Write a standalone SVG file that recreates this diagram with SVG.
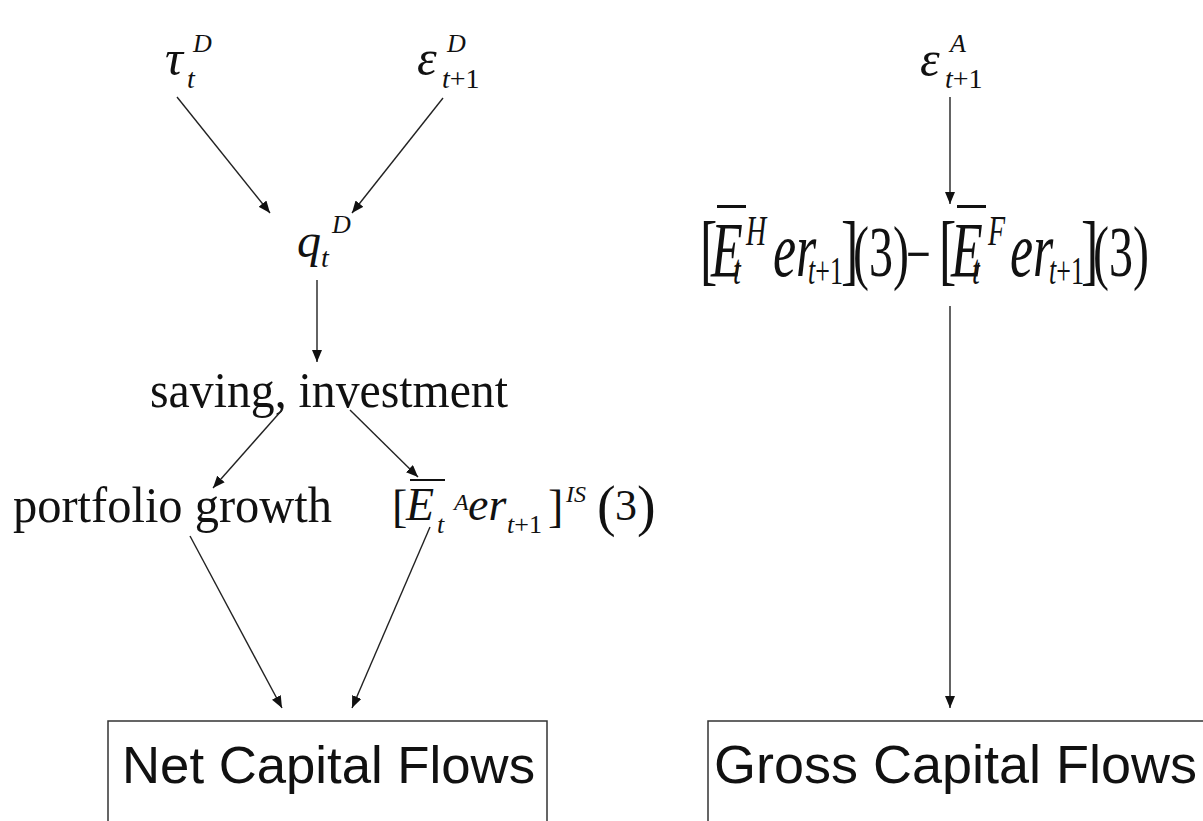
<svg xmlns="http://www.w3.org/2000/svg" width="1203" height="821" viewBox="0 0 1203 821">
<defs>
<marker id="ah" viewBox="0 0 12 10" refX="12" refY="5" markerWidth="12" markerHeight="10" markerUnits="userSpaceOnUse" orient="auto">
<path d="M0,0 L12,5 L0,10 z" fill="#111"/>
</marker>
<style>
.m{font-family:"Liberation Serif","Times New Roman",serif;font-style:italic;fill:#111}
.u{font-family:"Liberation Serif","Times New Roman",serif;font-style:normal;fill:#111}
.s{font-family:"Liberation Sans",Arial,sans-serif;fill:#111}
.box{fill:#fff;stroke:#333;stroke-width:1.5}
.c line{stroke:#222;stroke-width:1.4;marker-end:url(#ah)}
.bar{fill:#111}
</style>
</defs>
<rect width="1203" height="821" fill="#fff"/>

<g id="tauD">
<text class="m" x="165" y="75" font-size="50">τ</text>
<text class="m" x="187" y="88" font-size="28">t</text>
<text class="m" x="193" y="52" font-size="26">D</text>
</g>

<g id="epsD">
<text class="m" x="417" y="75" font-size="50">ε</text>
<text class="m" x="447" y="52" font-size="26">D</text>
<text x="442" y="88" font-size="28"><tspan class="m">t</tspan><tspan class="u">+1</tspan></text>
</g>

<g id="epsA">
<text class="m" x="920" y="76" font-size="50">ε</text>
<text class="m" x="950" y="52" font-size="26">A</text>
<text x="945" y="88" font-size="28"><tspan class="m">t</tspan><tspan class="u">+1</tspan></text>
</g>

<g id="qD">
<text class="m" x="297" y="257" font-size="48">q</text>
<text class="m" x="332" y="233" font-size="26">D</text>
<text class="m" x="321" y="267" font-size="28">t</text>
</g>

<g id="saving">
<text class="u" x="150" y="407" font-size="50" textLength="358" lengthAdjust="spacingAndGlyphs">saving, investment</text>
</g>

<g id="portfolio">
<text class="u" x="13" y="522" font-size="50" textLength="319" lengthAdjust="spacingAndGlyphs">portfolio growth</text>
</g>

<g id="expIS">
<text class="u" x="392" y="522" font-size="46">[</text>
<text class="m" x="406" y="520" font-size="46">E</text>
<rect class="bar" x="410" y="479" width="35" height="2"/>
<text class="m" x="437" y="533" font-size="26">t</text>
<text class="m" x="454" y="510" font-size="24">A</text>
<text class="m" x="468" y="520" font-size="46">er</text>
<text x="507" y="533" font-size="26"><tspan class="m">t</tspan><tspan class="u">+1</tspan></text>
<text class="u" x="548" y="522" font-size="46">]</text>
<text class="m" x="566" y="502" font-size="24">IS</text>
<text class="u" x="597" y="525" font-size="56">(</text>
<text class="u" x="615" y="520" font-size="44">3</text>
<text class="u" x="637" y="525" font-size="56">)</text>
</g>

<g id="expHF">
<rect class="bar" x="717" y="205" width="29" height="3"/>
<rect class="bar" x="957" y="205" width="29" height="3"/>
<g transform="translate(0,276) scale(1,1.5)">
<text class="u" x="700" y="0" font-size="52">[</text>
<text class="m" x="711" y="0" font-size="52">E</text>
<text class="m" x="746" y="-20.7" font-size="28">H</text>
<text class="m" x="733" y="5.3" font-size="28">t</text>
<text class="m" x="773" y="0" font-size="52">er</text>
<text x="808" y="5.3" font-size="26"><tspan class="m">t</tspan><tspan class="u">+1</tspan></text>
<text class="u" x="841" y="0" font-size="52">]</text>
<text class="u" x="853" y="0" font-size="48">(3)</text>
<text class="u" x="906" y="0" font-size="44">−</text>
<text class="u" x="939" y="0" font-size="52">[</text>
<text class="m" x="951" y="0" font-size="52">E</text>
<text class="m" x="988" y="-20.7" font-size="28">F</text>
<text class="m" x="972" y="5.3" font-size="28">t</text>
<text class="m" x="1010" y="0" font-size="52">er</text>
<text x="1049" y="5.3" font-size="26"><tspan class="m">t</tspan><tspan class="u">+1</tspan></text>
<text class="u" x="1081" y="0" font-size="52">]</text>
<text class="u" x="1093" y="0" font-size="48">(3)</text>
</g>
</g>

<g id="net">
<rect class="box" x="108" y="721" width="439" height="130"/>
<text class="s" x="122" y="783" font-size="52" textLength="413" lengthAdjust="spacingAndGlyphs">Net Capital Flows</text>
</g>

<g id="gross">
<rect class="box" x="708" y="721" width="530" height="130"/>
<text class="s" x="714" y="783" font-size="53" textLength="483" lengthAdjust="spacingAndGlyphs">Gross Capital Flows</text>
</g>

<g id="connectors" class="c">
<line x1="177" y1="97" x2="270" y2="213"/>
<line x1="443" y1="98" x2="352" y2="213"/>
<line x1="317" y1="280" x2="317" y2="362"/>
<line x1="282" y1="410" x2="213" y2="488"/>
<line x1="350" y1="410" x2="418" y2="477"/>
<line x1="190" y1="536" x2="282" y2="708"/>
<line x1="430" y1="527" x2="352" y2="708"/>
<line x1="950" y1="97" x2="950" y2="204"/>
<line x1="950" y1="306" x2="950" y2="708"/>
</g>
</svg>
